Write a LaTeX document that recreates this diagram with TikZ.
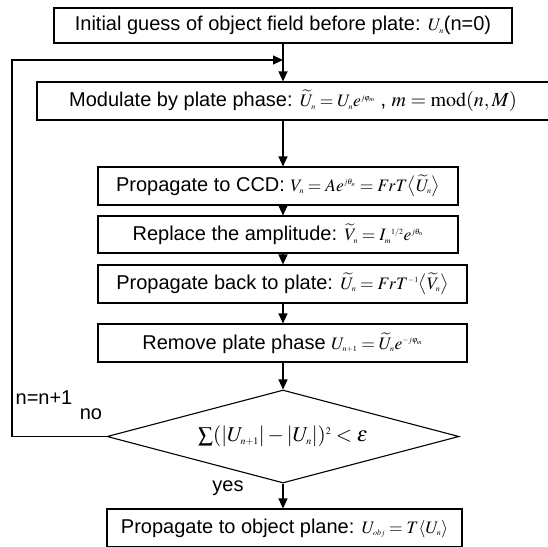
\documentclass[tikz,border=0pt]{standalone}
\usepackage{amsmath,amssymb}
\usepackage{mathptmx}
\usepackage[no-math]{fontspec}
\setmainfont{Liberation Sans}
\usepackage{tikz}
\usetikzlibrary{arrows.meta,positioning,shapes.geometric}
\DeclareMathSizes{17.5}{17.5}{8}{6.5}
\DeclareMathSizes{20}{20}{10}{8}
\DeclareMathSizes{21}{21}{10}{8}
\newcommand{\eqs}[1]{{\fontsize{17.5}{18}\selectfont #1}}
\newcommand{\eqm}[1]{{\fontsize{20}{22}\selectfont #1}}
\newcommand{\eqb}[1]{{\fontsize{21}{22}\selectfont #1}}
\tikzset{
  blk/.style={draw=black,line width=1.1pt,align=center,inner sep=2pt,font=\fontsize{20}{22}\selectfont,minimum height=38pt},
  dec/.style={draw=black,line width=1.1pt,diamond,aspect=3.78,inner sep=0pt,minimum width=352pt,minimum height=93pt},
  fl/.style={-{Triangle[length=10pt,width=9pt]},draw=black,line width=1.1pt},
  lbl/.style={font=\fontsize{20}{22}\selectfont,inner sep=0pt},
}

\begin{document}
\begin{tikzpicture}[x=1pt,y=-1pt]
\clip (0,0) rectangle (548,546);
\coordinate (axis) at (283,0);
\node[blk,minimum width=458pt,minimum height=35pt] (init) at (283,25.5) {Initial guess of object field before plate: \eqs{$U_n$}(n=0)};
\node[blk,minimum width=512pt] (mod) at (293,101) {Modulate by plate phase: \eqs{$\widetilde{U}_n=U_ne^{j\varphi_m}$} \eqm{, $m=\mathrm{mod}(n,M)$}};
\node[blk,minimum width=360pt] (ccd) at (278,186) {Propagate to CCD: \eqs{$V_n=Ae^{j\theta_n}=FrT\bigl\langle\widetilde{U}_n\bigr\rangle$}};
\node[blk,minimum width=360pt,minimum height=37pt] (amp) at (278,234.5) {Replace the amplitude: \eqs{$\widetilde{V}_n=I_m{}^{1/2}e^{j\theta_n}$}};
\node[blk,minimum width=369pt] (back) at (282.5,284) {Propagate back to plate: \eqs{$\widetilde{U}_n=FrT^{-1}\bigl\langle\widetilde{V}_n\bigr\rangle$}};
\node[blk,minimum width=369pt] (rem) at (282.5,343) {Remove plate phase \eqs{$U_{n+1}=\widetilde{U}_ne^{-j\varphi_m}$}};
\node[dec] (test) at (283,436.5) {\eqb{$\sum(\left|U_{n+1}\right|-\left|U_n\right|)^2<\varepsilon$}};
\node[blk,minimum width=355pt] (obj) at (284.5,528) {Propagate to object plane: \eqs{$U_{obj}=T\langle U_n\rangle$}};
\coordinate (corner) at (12,60);
\coordinate (join) at (283,60);
\draw[fl] (init.south) -- (init.south |- mod.north);
\draw[fl] (mod.south -| axis) -- (ccd.north -| axis);
\draw[fl] (ccd.south -| axis) -- (amp.north -| axis);
\draw[fl] (amp.south -| axis) -- (back.north -| axis);
\draw[fl] (back.south -| axis) -- (rem.north -| axis);
\draw[fl] (rem.south -| axis) -- (test.north);
\draw[fl] (test.south) -- (test.south |- obj.north);
\draw[fl] (test.west) -| (corner) -- (join);
\node[lbl] (inc) at (44,398) {n=n+1};
\node[lbl] (no) at (91,414) {no};
\node[lbl] (yes) at (228,488) {yes};
\end{tikzpicture}
\end{document}
